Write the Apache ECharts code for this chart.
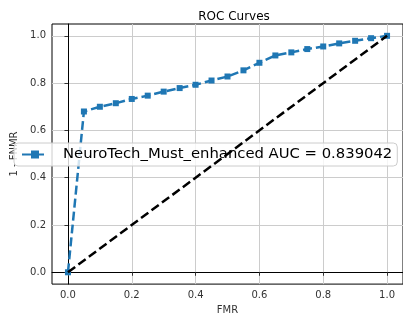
<!DOCTYPE html>
<html>
<head>
<meta charset="utf-8">
<script src="https://cdn.jsdelivr.net/npm/echarts@6/dist/echarts.min.js"></script>
<style>
  html, body { margin: 0; padding: 0; background: #fff; }
  #chart { width: 403px; height: 320px; }
</style>
</head>
<body>
<div id="chart"></div>
<script>
// ROC curve
const fmr = [0, 0.05, 0.10, 0.15, 0.20, 0.25, 0.30, 0.35, 0.40, 0.45, 0.50,
             0.55, 0.60, 0.65, 0.70, 0.75, 0.80, 0.85, 0.90, 0.95, 1.0];
const tpr = [0, 0.68, 0.70, 0.715, 0.733, 0.747, 0.764, 0.779, 0.793, 0.811, 0.828,
             0.854, 0.886, 0.917, 0.93, 0.944, 0.955, 0.968, 0.979, 0.99, 1.0];
const chanceX = [0, 1];
const chanceY = [0, 1];
const tickValues = [0, 0.2, 0.4, 0.6, 0.8, 1.0];
const seriesName = 'NeuroTech_Must_enhanced AUC = 0.839042';

const font = 'DejaVu Sans';
const chart = echarts.init(document.getElementById('chart'));

function axis(name, gap) {
    return {
        type: 'value',
        min: -0.05,
        max: 1.05,
        name: name,
        nameLocation: 'middle',
        nameGap: gap,
        nameTextStyle: { fontFamily: font, fontSize: 10, color: '#333' },
        axisLine: { show: true, lineStyle: { color: '#000', width: 1 } },
        axisTick: { show: true, length: 3.5, lineStyle: { color: '#333' }, customValues: tickValues },
        axisLabel: {
            fontFamily: font, fontSize: 10, color: '#333', margin: 6,
            customValues: tickValues,
            formatter: v => v.toFixed(1)
        },
        splitLine: { show: true, lineStyle: { color: '#cccccc', width: 1 } }
    };
}

chart.setOption({
    animation: false,
    title: {
        text: 'ROC Curves',
        left: 229, top: 6, textAlign: 'center',
        textStyle: { fontFamily: font, fontSize: 12, fontWeight: 'normal', color: '#000' }
    },
    grid: {
        left: 52, right: -4, top: 24, bottom: 32,
        show: true, borderColor: '#000', borderWidth: 1
    },
    xAxis: axis('FMR', 18),
    yAxis: axis('1 - FNMR', 32),
    legend: {
        data: [seriesName],
        left: 14, top: 143,
        padding: [4, 5, 4, 7],
        itemWidth: 26, itemHeight: 10,
        backgroundColor: 'rgba(255,255,255,0.8)',
        borderColor: '#ccc', borderWidth: 1, borderRadius: 4,
        textStyle: { fontFamily: font, fontSize: 14.8, color: '#000', padding: [0, 0, 0, 10] }
    },
    series: [
        {
            name: seriesName,
            type: 'line',
            data: fmr.map((x, i) => [x, tpr[i]]),
            symbol: 'rect', symbolSize: 6,
            itemStyle: { color: '#1f77b4' },
            lineStyle: { color: '#1f77b4', width: 2.5, type: [9, 4] },
            z: 3
        },
        {
            name: 'chance',
            type: 'line',
            data: chanceX.map((x, i) => [x, chanceY[i]]),
            symbol: 'none',
            lineStyle: { color: '#000', width: 2.5, type: [9, 4] },
            z: 4
        }
    ]
});
</script>
</body>
</html>
